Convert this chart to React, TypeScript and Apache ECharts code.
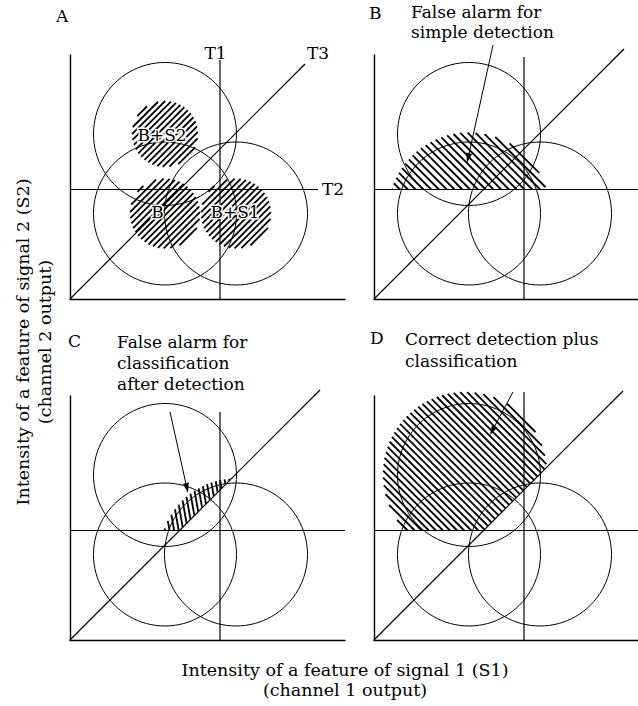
import React, { useEffect, useRef } from "react";
import * as echarts from "echarts";

// ---------- data (units: arbitrary intensity units, 1 unit = 10 px) ----------
const PANELS = ["A", "B", "C", "D"];
const PANEL_TEXT = [
  "",
  "False alarm for\nsimple detection",
  "False alarm for\nclassification\nafter detection",
  "Correct detection plus\nclassification",
];
const SIGNAL_NAMES = ["B", "B+S1", "B+S2"];
const SIGNAL_CX = [9.5, 16.6, 9.5];
const SIGNAL_CY = [8.55, 8.55, 16.5];
const SIGNAL_R = [7.15, 7.15, 7.15];

const T1 = 15.0;
const T2 = 10.95;
const T1_TOP = [23.9, 24.2, 22.8, 24.8];
const T2_END = [24.8, 26.4, 27.5, 26.4];
const T3_END = [23.5, 25.0, 25.0, 24.9];
const X_MAX = [27.5, 26.4, 27.5, 26.4];
const Y_MAX = 24.4;

// panel A hatched cores
const CORE_R = [3.5, 3.5, 3.3];
const CORE_LABEL_X = [8.75, 16.5, 9.2];
const CORE_LABEL_Y = [8.7, 8.7, 16.4];

// hatched regions of panels B, C, D: [cx, cy, r]
const REGION_B = [9.5, 8.55, 8.1];
const REGION_C = [16.6, 8.55, 7.6];
const REGION_D = [9.1, 16.6, 8.2];

// arrows: [x1, y1, x2, y2]
const ARROW_B = [11.9, 25.4, 9.3, 13.6];
const ARROW_C = [10.0, 22.8, 11.8, 14.7];
const ARROW_D = [13.9, 24.8, 11.6, 20.5];

// threshold labels in panel A
const T_LABELS = ["T1", "T2", "T3"];
const T_LABEL_X = [14.55, 26.3, 24.8];
const T_LABEL_Y = [24.6, 11.0, 24.6];

const FONT = '"DejaVu Serif", "Liberation Serif", serif';

const GRIDS = [
  { left: 70, top: 55, width: 275, height: 244 },
  { left: 374, top: 55, width: 264, height: 244 },
  { left: 70, top: 396, width: 275, height: 244 },
  { left: 374, top: 396, width: 264, height: 244 },
];

type Constraint = [number, number, number]; // a0*x + a1*y >= b
const ABOVE_T2: Constraint = [0, 1, T2];
const ABOVE_T3: Constraint = [-1, 1, 0];

function hatchRender(angleDeg: number, spacing: number, lineWidth: number, constraints: Constraint[]) {
  return (params: any, api: any) => {
    const cx = api.value(0);
    const cy = api.value(1);
    const r = api.value(2);
    const th = (angleDeg * Math.PI) / 180;
    const d = [Math.cos(th), Math.sin(th)];
    const n = [-d[1], d[0]];
    const children: any[] = [];
    for (let s = -r + spacing / 2; s < r; s += spacing) {
      const h = Math.sqrt(Math.max(0, r * r - s * s));
      let t0 = -h;
      let t1 = h;
      const px = cx + s * n[0];
      const py = cy + s * n[1];
      for (const [a0, a1, b] of constraints) {
        const ad = a0 * d[0] + a1 * d[1];
        const ap = a0 * px + a1 * py;
        if (Math.abs(ad) < 1e-9) {
          if (ap < b) {
            t0 = 1;
            t1 = 0;
          }
          continue;
        }
        const tt = (b - ap) / ad;
        if (ad > 0) t0 = Math.max(t0, tt);
        else t1 = Math.min(t1, tt);
      }
      if (t1 - t0 < 0.05) continue;
      const p0 = api.coord([px + t0 * d[0], py + t0 * d[1]]);
      const p1 = api.coord([px + t1 * d[0], py + t1 * d[1]]);
      children.push({
        type: "line",
        shape: { x1: p0[0], y1: p0[1], x2: p1[0], y2: p1[1] },
        style: { stroke: "#000", lineWidth },
      });
    }
    return { type: "group", children };
  };
}

function circleRender(params: any, api: any) {
  const c = api.coord([api.value(0), api.value(1)]);
  const r = api.size([api.value(2), 0])[0];
  return {
    type: "circle",
    shape: { cx: c[0], cy: c[1], r },
    style: { fill: "none", stroke: "#000", lineWidth: 1 },
  };
}

function arrowRender(params: any, api: any) {
  const p1 = api.coord([api.value(0), api.value(1)]);
  const p2 = api.coord([api.value(2), api.value(3)]);
  const dx = p2[0] - p1[0];
  const dy = p2[1] - p1[1];
  const len = Math.sqrt(dx * dx + dy * dy);
  const ux = dx / len;
  const uy = dy / len;
  const L = 10;
  const W = 3;
  const bx = p2[0] - ux * L;
  const by = p2[1] - uy * L;
  return {
    type: "group",
    children: [
      {
        type: "line",
        shape: { x1: p1[0], y1: p1[1], x2: bx + ux * 2, y2: by + uy * 2 },
        style: { stroke: "#000", lineWidth: 1 },
      },
      {
        type: "polygon",
        shape: {
          points: [
            [p2[0], p2[1]],
            [bx - uy * W, by + ux * W],
            [bx + uy * W, by - ux * W],
          ],
        },
        style: { fill: "#000" },
      },
    ],
  };
}

function labelRender(withHalo: boolean) {
  return (params: any, api: any) => {
    const c = api.coord([api.value(0), api.value(1)]);
    const names = withHalo ? SIGNAL_NAMES : T_LABELS;
    return {
      type: "text",
      x: c[0],
      y: c[1],
      style: {
        text: names[params.dataIndex],
        fill: "#000",
        fontFamily: FONT,
        fontSize: 17,
        align: "center",
        verticalAlign: "middle",
        stroke: withHalo ? "#fff" : undefined,
        lineWidth: withHalo ? 3 : 0,
      },
    };
  };
}

function buildOption() {
  const series: any[] = [];
  const xAxis: any[] = [];
  const yAxis: any[] = [];
  const axisLine = { show: true, onZero: false, lineStyle: { color: "#000", width: 1.4 } };

  PANELS.forEach((p, i) => {
    xAxis.push({
      type: "value", gridIndex: i, min: 0, max: X_MAX[i],
      axisLine, axisTick: { show: false }, axisLabel: { show: false }, splitLine: { show: false },
    });
    yAxis.push({
      type: "value", gridIndex: i, min: 0, max: Y_MAX,
      axisLine, axisTick: { show: false }, axisLabel: { show: false }, splitLine: { show: false },
    });
    const ax = { xAxisIndex: i, yAxisIndex: i };

    // hatched regions
    if (i === 0) {
      series.push({
        type: "custom", ...ax, clip: false, z: 1, silent: true,
        encode: { x: 0, y: 1 },
        data: SIGNAL_CX.map((cx, k) => [cx, SIGNAL_CY[k], CORE_R[k]]),
        renderItem: hatchRender(45, 0.45, 1.8, []),
      });
    } else {
      const region = i === 1 ? REGION_B : i === 2 ? REGION_C : REGION_D;
      const cons = i === 1 ? [ABOVE_T2] : [ABOVE_T2, ABOVE_T3];
      const angle = i === 2 ? 100 : 135;
      const spacing = i === 1 ? 0.55 : i === 2 ? 0.45 : 0.5;
      series.push({
        type: "custom", ...ax, clip: false, z: 1, silent: true,
        encode: { x: 0, y: 1 },
        data: [region],
        renderItem: hatchRender(angle, spacing, 1.8, cons),
      });
    }

    // signal circles
    series.push({
      type: "custom", ...ax, clip: false, z: 2, silent: true,
      encode: { x: 0, y: 1 },
      data: SIGNAL_CX.map((cx, k) => [cx, SIGNAL_CY[k], SIGNAL_R[k]]),
      renderItem: circleRender,
    });

    // thresholds
    const lineBase = {
      type: "line", ...ax, clip: false, z: 3, silent: true, symbol: "none",
      lineStyle: { color: "#000", width: 1.2 }, animation: false,
    };
    series.push({ ...lineBase, data: [[T1, 0], [T1, T1_TOP[i]]] });
    series.push({ ...lineBase, data: [[0, T2], [T2_END[i], T2]] });
    series.push({ ...lineBase, data: [[0, 0], [T3_END[i], T3_END[i]]] });

    // arrows
    if (i > 0) {
      const arrow = i === 1 ? ARROW_B : i === 2 ? ARROW_C : ARROW_D;
      series.push({
        type: "custom", ...ax, clip: false, z: 4, silent: true,
        dimensions: ["x1", "y1", "x2", "y2"],
        encode: { x: [0, 2], y: [1, 3] },
        data: [arrow],
        renderItem: arrowRender,
      });
    }

    if (i === 0) {
      series.push({
        type: "custom", ...ax, clip: false, z: 5, silent: true,
        encode: { x: 0, y: 1 },
        data: CORE_LABEL_X.map((x, k) => [x, CORE_LABEL_Y[k]]),
        renderItem: labelRender(true),
      });
      series.push({
        type: "custom", ...ax, clip: false, z: 5, silent: true,
        encode: { x: 0, y: 1 },
        data: T_LABEL_X.map((x, k) => [x, T_LABEL_Y[k]]),
        renderItem: labelRender(false),
      });
    }
  });

  const txt = (x: number, y: number, text: string, extra: any = {}) => ({
    type: "text", x, y,
    style: {
      text, fill: "#000", fontFamily: FONT, fontSize: 17,
      align: "left", verticalAlign: "middle", ...extra,
    },
  });

  const graphic: any[] = [
    txt(56, 16, PANELS[0]),
    txt(369, 13, PANELS[1]),
    txt(68, 341, PANELS[2]),
    txt(370, 338, PANELS[3]),
    txt(411, 2, PANEL_TEXT[1], { verticalAlign: "top", lineHeight: 20 }),
    txt(117, 331, PANEL_TEXT[2], { verticalAlign: "top", lineHeight: 21 }),
    txt(405, 328, PANEL_TEXT[3], { verticalAlign: "top", lineHeight: 22 }),
    {
      type: "text", x: 345, y: 680,
      style: {
        text: "Intensity of a feature of signal 1 (S1)\n(channel 1 output)",
        fill: "#000", fontFamily: FONT, fontSize: 17.5, lineHeight: 20,
        align: "center", verticalAlign: "middle",
      },
    },
    {
      type: "text", x: 34, y: 342, rotation: Math.PI / 2,
      style: {
        text: "Intensity of a feature of signal 2 (S2)\n(channel 2 output)",
        fill: "#000", fontFamily: FONT, fontSize: 17.5, lineHeight: 22,
        align: "center", verticalAlign: "middle",
      },
    },
  ];

  return {
    animation: false,
    backgroundColor: "#fff",
    grid: GRIDS.map((g) => ({ ...g, containLabel: false })),
    xAxis,
    yAxis,
    series,
    graphic,
  };
}

export default function App() {
  const ref = useRef<HTMLDivElement>(null);
  useEffect(() => {
    document.body.style.margin = "0";
    if (!ref.current) return;
    const chart = echarts.init(ref.current, undefined, { renderer: "svg" });
    chart.setOption(buildOption() as any);
    return () => chart.dispose();
  }, []);
  return <div ref={ref} style={{ width: 638, height: 706 }} />;
}
